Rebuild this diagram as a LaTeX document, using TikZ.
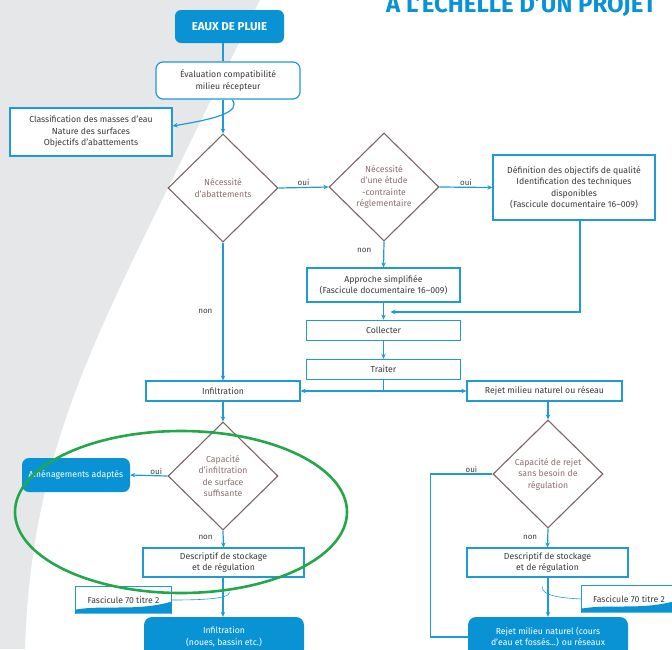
\documentclass[tikz,border=0pt]{standalone}
\usepackage{fontspec}
\setmainfont{Fira Sans}
\usetikzlibrary{positioning,shapes.geometric,arrows.meta,calc}
\definecolor{bleu}{HTML}{1E9AD6}
\definecolor{bleufonce}{HTML}{0A93D4}
\definecolor{brun}{HTML}{7A6666}
\definecolor{brunclair}{HTML}{8A6F6F}
\definecolor{gris}{HTML}{E6E7E8}
\definecolor{texte}{HTML}{3A3A3A}
\definecolor{vert}{HTML}{22A84A}
\tikzset{
  boite/.style={draw=bleu, line width=1.2pt, fill=white, align=center, inner sep=0pt,
    text=texte, font=\fontsize{8.7}{11.5}\selectfont},
  plein/.style={fill=bleufonce, rounded corners=6pt, align=center, inner sep=0pt,
    text=white, font=\fontsize{8.7}{11.5}\selectfont},
  losange/.style={diamond, draw=brun, line width=1.1pt, fill=white, minimum width=110pt,
    minimum height=108pt, inner sep=0pt, align=center, text=brunclair,
    font=\fontsize{8.7}{11.5}\selectfont},
  fleche/.style={draw=bleu, line width=1.2pt, -{Stealth[length=5pt,width=4.5pt]}},
  trait/.style={draw=bleu, line width=1.2pt},
  etiq/.style={text=texte, font=\fontsize{8}{9}\selectfont, inner sep=1pt}
}
\begin{document}
\begin{tikzpicture}[x=1pt,y=-1pt]
  \useasboundingbox (0,0) rectangle (672,649);
  \clip (0,0) rectangle (672,649);
  % fond gris
  \fill[gris] (0,0) -- (260,0) -- (140,245) .. controls (80,370) and (30,480) .. (25,649) -- (0,649) -- cycle;

  % titre
  \node[anchor=base west, inner sep=0pt, text=bleufonce, font=\fontsize{24}{24}\selectfont\bfseries] (titre) at (386,12) {À L'ÉCHELLE D'UN PROJET};

  % noeuds
  \node[plein, minimum width=109pt, minimum height=33pt, font=\fontsize{11.5}{13}\selectfont\bfseries] (eaux) at (229.5,26.5) {EAUX DE PLUIE};
  \node[boite, rounded corners=7pt, minimum width=144pt, minimum height=37pt] (eval) at (228,80.5) {Évaluation compatibilité\\milieu récepteur};
  \node[boite, minimum width=162pt, minimum height=48pt] (classif) at (91,132) {Classification des masses d'eau\\Nature des surfaces\\Objectifs d'abattements};
  \node[losange] (abat) at (223,188) {Nécessité\\d'abattements};
  \node[losange] (etude) at (384,187) {Nécessité\\d'une étude\\-contrainte\\réglementaire};
  \node[boite, minimum width=162pt, minimum height=65pt] (objectifs) at (574,187.5) {Définition des objectifs de qualité\\Identification des techniques\\disponibles\\(Fascicule documentaire 16–009)};
  \node[boite, minimum width=153pt, minimum height=34pt] (approche) at (383.5,285) {Approche simplifiée\\(Fascicule documentaire 16–009)};
  \node[boite, minimum width=154pt, minimum height=20pt, below=17pt of approche] (collecter) {Collecter};
  \node[boite, minimum width=154pt, minimum height=20pt, below=18pt of collecter] (traiter) {Traiter};
  \node[boite, minimum width=154pt, minimum height=20pt] (infil) at (223,391) {Infiltration};
  \node[boite, minimum width=155pt, minimum height=20pt] (rejet) at (544.5,391) {Rejet milieu naturel ou réseau};
  \node[losange] (capinf) at (223,476) {Capacité\\d'infiltration\\de surface\\suffisante};
  \node[losange] (caprej) at (548,474) {Capacité de rejet\\sans besoin de\\régulation};
  \node[plein, rounded corners=7pt, minimum width=108pt, minimum height=34pt] (amenag) at (76,475) {Aménagements adaptés};
  \node[boite, minimum width=161pt, minimum height=29pt] (descinf) at (223.5,562.5) {Descriptif de stockage\\et de régulation};
  \node[boite, minimum width=161pt, minimum height=29pt] (descrej) at (547.5,562.5) {Descriptif de stockage\\et de régulation};
  \node[plein, rounded corners=8pt, minimum width=160pt, minimum height=40pt] (infilfin) at (224,637) {Infiltration\\(noues, bassin etc.)};
  \node[plein, rounded corners=8pt, minimum width=160pt, minimum height=40pt] (rejetfin) at (548,637) {Rejet milieu naturel (cours\\d'eau et fossés...) ou réseaux};
  \node[boite, draw=none, minimum width=95pt, minimum height=26pt] (fascinf) at (123.5,600) {Fascicule 70 titre 2};
  \node[boite, draw=none, minimum width=94pt, minimum height=26pt] (fascrej) at (629,599) {Fascicule 70 titre 2};

  % bords des fascicules
  \draw[bleu, line width=0.9pt] (fascinf.south west) -- (fascinf.north west) -- (fascinf.north east) -- (fascinf.south east);
  \fill[bleufonce] ($(fascinf.south west)+(0,-4)$) .. controls +(30,-5) and +(-35,10) .. ($(fascinf.south east)+(0,-12)$) -- (fascinf.south east) -- (fascinf.south west) -- cycle;
  \draw[bleu, line width=0.9pt] (fascrej.south west) -- (fascrej.north west) -- (fascrej.north east) -- (fascrej.south east);
  \fill[bleufonce] ($(fascrej.south west)+(0,-4)$) .. controls +(30,-5) and +(-35,10) .. ($(fascrej.south east)+(0,-12)$) -- (fascrej.south east) -- (fascrej.south west) -- cycle;

  % liaisons
  \draw[trait] (eaux.south -| abat.north) -- (eval.north -| abat.north);
  \draw[fleche] (eval.south -| abat.north) -- (abat.north);
  \draw[fleche] ($(eval.south)+(4,0)$) .. controls (242,112) and (215,119) .. ($(classif.east)+(0,-6)$);
  \draw[fleche] (abat.east) -- node[etiq, above] {oui} (etude.west);
  \draw[fleche] (etude.east) -- node[etiq, above] {oui} (objectifs.west);
  \draw[fleche] (etude.south) -- node[etiq, left=11pt, pos=0.36] {non} (approche.north);
  \draw[fleche] ($(objectifs.south)+(6,0)$) |- ($(approche.south)!0.55!(collecter.north)+(7,0)$);
  \draw[fleche] (approche) -- (collecter);
  \draw[fleche] (collecter) -- (traiter);
  \coordinate (partage) at (traiter.south |- infil.east);
  \draw[trait] (traiter.south) -- (partage);
  \draw[fleche] (partage) -- (infil.east);
  \draw[fleche] (partage) -- (rejet.west);
  \draw[fleche] (abat.south) -- node[etiq, left=9pt] {non} (infil.north);
  \draw[fleche] (infil.south) -- (capinf.north);
  \draw[fleche] (capinf.west) -- node[etiq, above, pos=0.3] {oui} (amenag.east);
  \draw[fleche] (capinf.south) -- node[etiq, left=9pt, pos=0.4] {non} (descinf.north);
  \draw[fleche] (descinf.south -| capinf.south) -- (infilfin.north -| capinf.south);
  \draw[fleche] (rejet.south -| caprej.north) -- (caprej.north);
  \draw[fleche] (caprej.south) -- node[etiq, left=9pt, pos=0.45] {non} (descrej.north);
  \draw[fleche] (descrej.south -| caprej.south) -- (rejetfin.north -| caprej.south);
  \coordinate (coude) at ($(caprej.west)+(-62,0)$);
  \draw[trait] (caprej.west) -- node[etiq, above, pos=0.34] {oui} (coude) |- (rejetfin.west);
  \draw[bleu, line width=0.6pt] (fascinf.east) .. controls (200,600) and (229,599) .. ($(descinf.south)+(6,15)$);
  \draw[bleu, line width=0.6pt] (fascrej.west) .. controls (562,598) and (541,596) .. ($(descrej.south)+(-5,9)$);

  % ellipse verte
  \draw[vert, line width=2.6pt] (181,512) ellipse [x radius=166, y radius=81];
\end{tikzpicture}
\end{document}
